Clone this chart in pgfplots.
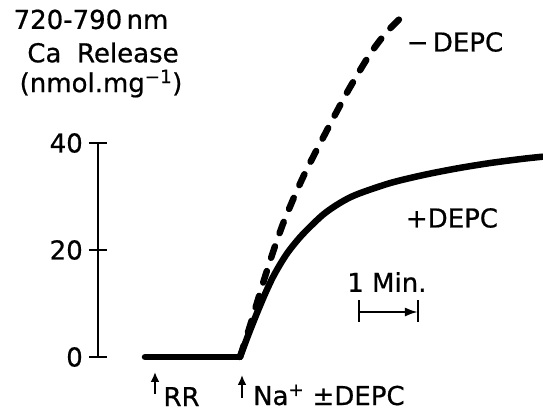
\documentclass[border=0pt]{standalone}
\usepackage{fontspec}
\setmainfont{DejaVu Sans}[FakeBold=0.7]
\usepackage{pgfplots}
\pgfplotsset{compat=1.18}
\usetikzlibrary{arrows.meta}
\newcommand{\labfont}{\fontsize{26}{29}\selectfont}
\begin{document}
\begin{tikzpicture}
\begin{axis}[
  x=59pt, y=5.35pt,
  xmin=-2.407, xmax=5.136, ymin=0, ymax=40,
  clip=false,
  axis x line=none, axis y line*=left,
  ytick={0,20,40},
  tick align=center, major tick length=18pt,
  every tick/.style={black, line width=2.5pt},
  axis line style={black, line width=2.5pt},
  /pgf/number format/assume math mode=true,
  yticklabel style={font=\labfont, inner sep=0pt, xshift=-6pt},
]
% baseline before Na+ addition
\addplot[black, line width=6.5pt, line cap=round] coordinates {
  (-1.61,0) (0,0)
};
% +DEPC (solid)
\addplot[black, line width=6.5pt, line join=round, smooth, tension=0.5] coordinates {
  (0,0) (0.153,4.49) (0.288,8.22) (0.424,11.78) (0.559,14.95) (0.712,17.9)
  (0.847,20.1) (1.068,23.0) (1.407,26.6) (1.695,28.8) (1.983,30.4)
  (2.542,32.5) (3.102,34.0) (3.678,35.25) (4.237,36.25) (4.797,37.05) (5.136,37.45)
};
% -DEPC (dashed)
\addplot[black, line width=6.5pt, line cap=round, dash pattern=on 12pt off 14pt, smooth, tension=0.5] coordinates {
  (0,0) (0.169,5.8) (0.390,13.8) (0.559,19.6) (0.729,24.9) (0.898,29.4)
  (1.051,33.2) (1.220,37.0) (1.390,40.6) (1.627,45.6) (1.864,50.4)
  (2.203,56.6) (2.492,60.8) (2.831,64.5)
};
% title
\node[font=\labfont, inner sep=0pt] at (axis cs:-2.525,63.1) {720-790\,nm};
\node[font=\labfont, inner sep=0pt] at (axis cs:-2.322,56.9) {Ca\hspace{0.6em}Release};
\node[font=\labfont, inner sep=0pt] at (axis cs:-2.356,51.1) {(nmol.mg\textsuperscript{−1})};
% curve labels
\node[font=\labfont, inner sep=0pt] at (axis cs:3.644,58.88) {−\,DEPC};
\node[font=\labfont, inner sep=0pt] at (axis cs:3.593,25.98) {+DEPC};
% time scale bar
\node[font=\labfont, inner sep=0pt] at (axis cs:2.49,14.02) {1 Min.};
\draw[line width=2.2pt, -{Latex[length=13pt,width=9pt]}] (axis cs:2.017,8.41) -- (axis cs:3.017,8.41);
\draw[line width=2.2pt] (axis cs:2.017,10.65) -- (axis cs:2.017,6.54);
\draw[line width=2.2pt] (axis cs:3.017,10.65) -- (axis cs:3.017,6.54);
% additions
\draw[line width=2.8pt, -{Latex[length=10pt,width=9pt]}] (axis cs:-1.441,-6.9) -- (axis cs:-1.441,-2.8);
\node[font=\labfont, anchor=west, inner sep=0pt] at (axis cs:-1.30,-7.4) {RR};
\draw[line width=2.8pt, -{Latex[length=10pt,width=9pt]}] (axis cs:0.034,-7.66) -- (axis cs:0.034,-3.36);
\node[font=\labfont, anchor=west, inner sep=0pt] at (axis cs:0.22,-7.1) {Na\textsuperscript{+} ±DEPC};
\coordinate (bl) at (axis cs:-4.068,-10.28);
\coordinate (tr) at (axis cs:5.136,66.73);
\end{axis}
\pgfresetboundingbox
\useasboundingbox (bl) rectangle (tr);
\end{tikzpicture}
\end{document}
